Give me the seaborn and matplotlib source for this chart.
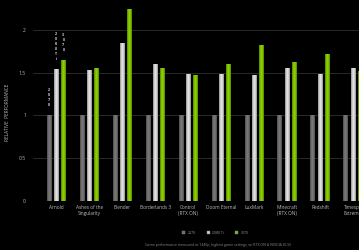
import matplotlib
matplotlib.use("Agg")
import matplotlib.pyplot as plt
import matplotlib.colors as mcolors
import seaborn as sns
import pandas as pd
import numpy as np
from matplotlib.patches import Patch

categories = ["Arnold", "Ashes of the\nSingularity", "Blender", "Borderlands 3",
              "Control\n(RTX ON)", "Doom Eternal", "LuxMark", "Minecraft\n(RTX ON)",
              "Redshift", "Timespy\nExtreme"]
gpus = ["2070", "2080 Ti", "3070"]
rtx2070 = [1.0, 1.0, 1.0, 1.0, 1.0, 1.0, 1.0, 1.0, 1.0, 1.0]
rtx2080ti = [1.54, 1.53, 1.85, 1.60, 1.48, 1.48, 1.47, 1.56, 1.48, 1.55]
rtx3070 = [1.65, 1.56, 2.24, 1.56, 1.47, 1.60, 1.82, 1.63, 1.72, 1.52]
colors = ["#6b6b6b", "#cccccc", "#76b900"]
edge_colors = ["#4a4a4a", "#8c8c8c", "#4f8000"]
center_colors = ["#7a7a7a", "#e6e6e6", "#8fd400"]
footnote = "Game performance measured at 1440p, highest game settings, w/ RTX ON & NVIDIA DLSS"

rows = []
for i, c in enumerate(categories):
    for g, vals in zip(gpus, [rtx2070, rtx2080ti, rtx3070]):
        rows.append({"cat": c, "gpu": g, "val": vals[i]})
df = pd.DataFrame(rows)

sns.set_theme(style="dark")
plt.rcParams['font.family'] = ['Open Sans', 'DejaVu Sans']

fig = plt.figure(figsize=(3.59, 2.5), dpi=100, facecolor="black")
ax = fig.add_axes([0.092, 0.196, 0.908, 0.804])
ax.set_facecolor("black")

sns.barplot(data=df, x="cat", y="val", hue="gpu", palette=colors, width=0.66,
            gap=0.36, ax=ax, legend=False, saturation=1, errorbar=None, linewidth=0)

ax.set_xlim(-0.7, 9.18)
ax.set_ylim(0, 2.35)

# horizontal cylindrical gradient for each bar
t = np.linspace(-1, 1, 32)
prof = 1 - np.abs(t) ** 1.6
for container, ec, cc in zip(ax.containers, edge_colors, center_colors):
    e = np.array(mcolors.to_rgb(ec))
    c = np.array(mcolors.to_rgb(cc))
    img = (e[None, :] + (c - e)[None, :] * prof[:, None])[None, :, :]
    for bar in container:
        x0, y0 = bar.get_x(), bar.get_y()
        w, h = bar.get_width(), bar.get_height()
        im = ax.imshow(img, extent=(x0, x0 + w, y0, y0 + h), aspect="auto",
                       interpolation="bilinear", zorder=2)
        im.set_clip_path(bar)
        bar.set_facecolor("none")
ax.set_xlim(-0.7, 9.18)
ax.set_ylim(0, 2.35)

ax.set_yticks([0, 0.5, 1, 1.5, 2])
ax.set_yticklabels(["0", "0.5", "1", "1.5", "2"])
for y in [0.5, 1, 1.5, 2]:
    ax.axhline(y, color="#3a3a3a", lw=0.5, zorder=0)
ax.axhline(0, color="#8a8a8a", lw=0.6, zorder=3)
ax.grid(False)
for s in ax.spines.values():
    s.set_visible(False)
ax.tick_params(axis="y", length=0, pad=5, labelsize=3.6, labelcolor="#bbbbbb")
ax.tick_params(axis="x", length=0, pad=3, labelsize=3.4, labelcolor="#bbbbbb")
ax.set_xlabel("")
ax.set_ylabel("")

# stacked digit labels above Arnold bars
labels_stack = ["2\n0\n7\n0", "2\n0\n8\n0\nT\ni", "3\n0\n7\n0"]
for k, (lab, vals) in enumerate(zip(labels_stack, [rtx2070, rtx2080ti, rtx3070])):
    xpos = (k - 1) * 0.22
    ax.annotate(lab, (xpos, vals[0]), xytext=(0, 6), textcoords="offset points",
                ha="center", va="bottom", fontsize=2.6, color="#dddddd",
                linespacing=1.3, fontweight="bold")

fig.text(0.022, 0.552, "RELATIVE  PERFORMANCE", rotation=90, ha="center", va="center",
         fontsize=3.4, color="#bbbbbb")

handles = [Patch(facecolor=c, edgecolor="#888888", linewidth=0.3, label=g) for c, g in zip(colors, gpus)]
fig.legend(handles=handles, loc="center", bbox_to_anchor=(0.6, 0.068), ncol=3,
           frameon=False, fontsize=2.5, labelcolor="#999999", handlelength=0.9,
           handleheight=0.9, columnspacing=3.0, handletextpad=0.8)

fig.text(0.607, 0.02, footnote, ha="center", va="center", fontsize=2.5, color="#888888")

fig.savefig("out.png", dpi=100, facecolor="black")
